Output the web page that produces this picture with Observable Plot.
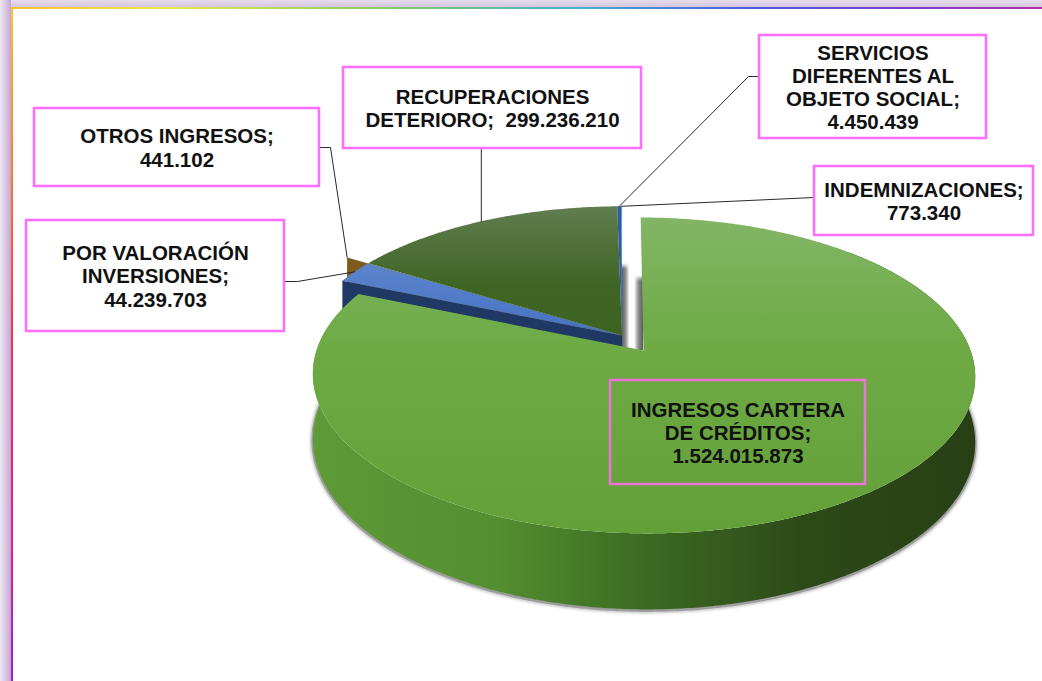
<!DOCTYPE html>
<html lang="es">
<head>
<meta charset="utf-8">
<title>Ingresos</title>
<script src="https://cdn.jsdelivr.net/npm/d3@7"></script>
<script src="https://cdn.jsdelivr.net/npm/@observablehq/plot@0.6"></script>
<style>
html,body{margin:0;padding:0;background:#fff;overflow:hidden;width:1042px;height:681px;position:relative}
#bandTop{position:absolute;left:0;top:0;width:1042px;height:7px;background:linear-gradient(180deg,#e6dcec,#d6c6e0)}
#bandLeft{position:absolute;left:0;top:0;width:11px;height:681px;background:linear-gradient(90deg,#f0e9f3,#c3a7d6)}
#lineTop{position:absolute;left:11px;top:7px;width:1031px;height:2px;background:linear-gradient(90deg,#ffc02a 0%,#e8e84a 15%,#7ccb6a 38%,#45b0d0 55%,#4a5ae0 72%,#7a3fd0 86%,#b030a8 100%)}
#lineLeft{position:absolute;left:11px;top:7px;width:2px;height:674px;background:linear-gradient(180deg,#ffc02a 0%,#ff7a2a 25%,#f03050 50%,#e0208c 80%,#a020c0 100%)}
#chart{position:absolute;left:0;top:0}
</style>
</head>
<body>
<div id="bandTop"></div><div id="bandLeft"></div><div id="lineTop"></div><div id="lineLeft"></div>
<svg width="0" height="0" style="position:absolute">
  <defs>
    <linearGradient id="gGreen" x1="0" y1="0" x2="0" y2="1">
      <stop offset="0" stop-color="#82b566"/><stop offset="0.4" stop-color="#6eab45"/><stop offset="1" stop-color="#63a038"/>
    </linearGradient>
    <linearGradient id="gDark" x1="0" y1="0" x2="0" y2="1">
      <stop offset="0" stop-color="#607d50"/><stop offset="0.6" stop-color="#3f6524"/><stop offset="1" stop-color="#3d6322"/>
    </linearGradient>
    <linearGradient id="gBlue" x1="0" y1="0" x2="0" y2="1">
      <stop offset="0" stop-color="#5c84cc"/><stop offset="1" stop-color="#4472c4"/>
    </linearGradient>
    <linearGradient id="gShadeL" x1="0" y1="0" x2="1" y2="0">
      <stop offset="0" stop-color="#5a5a5a"/><stop offset="0.5" stop-color="#8e8e8e"/><stop offset="1" stop-color="#ffffff"/>
    </linearGradient>
    <linearGradient id="gShadeR" x1="0" y1="0" x2="1" y2="0">
      <stop offset="0" stop-color="#ffffff"/><stop offset="0.5" stop-color="#8e8e8e"/><stop offset="1" stop-color="#5a5a5a"/>
    </linearGradient>
    <linearGradient id="gFade" x1="0" y1="0" x2="0" y2="1">
      <stop offset="0" stop-color="#ffffff"/><stop offset="1" stop-color="#ffffff" stop-opacity="0"/>
    </linearGradient>
    <linearGradient id="gWall" x1="0" y1="0" x2="1" y2="0">
      <stop offset="0" stop-color="#5f9a38"/><stop offset="0.28" stop-color="#538e30"/><stop offset="0.5" stop-color="#3c6a22"/><stop offset="0.74" stop-color="#2c4a18"/><stop offset="1" stop-color="#283f15"/>
    </linearGradient>
  </defs>
</svg>
<div id="chart"></div>
<script>
// ---- data ----
const categories = ["INGRESOS CARTERA DE CRÉDITOS","POR VALORACIÓN INVERSIONES","OTROS INGRESOS","RECUPERACIONES DETERIORO","SERVICIOS DIFERENTES AL OBJETO SOCIAL","INDEMNIZACIONES"];
const values = [1524015873, 44239703, 441102, 299236210, 4450439, 773340];
const wrappedNames = ["INGRESOS CARTERA\nDE CRÉDITOS","POR VALORACIÓN\nINVERSIONES","OTROS INGRESOS","RECUPERACIONES\nDETERIORO","SERVICIOS\nDIFERENTES AL\nOBJETO SOCIAL","INDEMNIZACIONES"];
const separators = [";\n",";\n",";\n",";\u00a0 ",";\n",";\n"];

// ---- layout (label boxes: left, right, top, bottom) ----
const boxes = [[610,865,380,484],[26,284,220,331],[34,319,108,186],[343,641,67,148],[759,986,35,138],[814,1033,166,235]];
const leaderSide = [null,"right","right","bottom","left","left"];
const elbow = [0,13,11,0,11,0];

// ---- 3D pie projection ----
const CX=643, CY=350, A=327, B=154, K=0.158, SK=3.3, DEPTH=64;
const CU=-0.0657, CV=0.099;             // offset of the non-exploded group
const proj=(u,v)=>{const d=1+K*v;return {x:CX+(A*u-SK*v)/d,y:CY-B*v/d,d};};
const polar=(t,r,cu,cv)=>proj(cu+r*Math.sin(t),cv+r*Math.cos(t));
const slices=d3.pie().sort(null).startAngle(0).endAngle(2*Math.PI)(values);
const offs=i=>i===0?[0,0]:[CU,CV];
function arcPts(a0,a1,r,cu,cv){
  const n=Math.max(1,Math.ceil((a1-a0)/(Math.PI/360)));
  return d3.range(n+1).map(j=>polar(a0+(a1-a0)*j/n,r,cu,cv));
}
function wedge(i){
  const [cu,cv]=offs(i), s=slices[i], c=proj(cu,cv);
  return [c,...arcPts(s.startAngle,s.endAngle,1,cu,cv),c];
}
function face(a,r,cu,cv,h){
  const c=proj(cu,cv), p=polar(a,r,cu,cv);
  return [c,p,{x:p.x,y:p.y+h},{x:c.x,y:c.y+h},c];
}
const RB=1.09;

// green side wall: upper arc, then lower arc back
const wallTop=arcPts(Math.PI/4,slices[0].endAngle,1,0,0);
const lower=wallTop.map(p=>({x:p.x,y:p.y+DEPTH/p.d}));
const wall=[...wallTop,...lower.slice().reverse(),wallTop[0]];

// gap shading, derived from the apex points
const P=proj(CU,CV), Q=proj(0,0);
const shadeRects=[
  {x1:P.x,x2:P.x+8,y1:P.y-72,y2:Q.y,f:"url(#gShadeL)"},
  {x1:Q.x-9,x2:Q.x,y1:Q.y-75,y2:Q.y,f:"url(#gShadeR)"},
  {x1:P.x,x2:P.x+8,y1:P.y-72,y2:P.y-66,f:"url(#gFade)"},
  {x1:Q.x-9,x2:Q.x,y1:Q.y-75,y2:Q.y-69,f:"url(#gFade)"}
];

// leaders
const mid=i=>(slices[i].startAngle+slices[i].endAngle)/2;
const leaderEnds=[null,polar(mid(1),1,CU,CV),polar(slices[2].endAngle,RB,CU,CV),polar(mid(3),1,CU,CV),polar(mid(4),1,CU,CV),polar(mid(5),1,CU,CV)];
const leaderStart=[null,{x:284,y:281},{x:319,y:147},null,{x:759,y:76},{x:814,y:197}];
const leaders=[];
leaderEnds.forEach((e,i)=>{
  if(!e) return;
  const b=boxes[i]; let pts;
  if(leaderSide[i]==="bottom") pts=[{x:e.x,y:b[3]},e];
  else{
    const st=leaderStart[i], dir=leaderSide[i]==="right"?1:-1;
    pts=elbow[i]?[st,{x:st.x+dir*elbow[i],y:st.y},e]:[st,e];
  }
  pts.forEach(p=>leaders.push({x:p.x,y:p.y,i}));
});

// labels
const fmt=d3.formatLocale({decimal:",",thousands:".",grouping:[3],currency:["",""]}).format(",");
const labelTexts=values.map((v,i)=>wrappedNames[i]+separators[i]+fmt(v));
const labelRows=labelTexts.map((t,i)=>({t,x:(boxes[i][0]+boxes[i][1])/2,y:(boxes[i][2]+boxes[i][3])/2}));
const boxRows=boxes.map((b,i)=>({x1:b[0],x2:b[1],y1:b[2],y2:b[3],f:i===0?"none":"white",s:i===0?"#f070dc":"#ff6cff"}));

const topColors=["url(#gGreen)","url(#gBlue)","#7f5a1e","url(#gDark)","#2f5c9e","#4f81bd"];
const poly=(pts,fill)=>Plot.line(pts,{x:"x",y:"y",fill,stroke:"none"});

const chart=Plot.plot({
  width:1042,height:681,margin:0,
  style:{background:"transparent",fontFamily:"'Liberation Sans',Arial,sans-serif"},
  x:{domain:[0,1042],range:[0,1042],axis:null},
  y:{domain:[0,681],range:[0,681],axis:null},
  color:{type:"identity"},
  marks:[
    Plot.line(lower,{x:"x",y:d=>d.y+1,stroke:"#555",strokeWidth:9,strokeOpacity:0.08}),
    Plot.line(lower,{x:"x",y:d=>d.y+1,stroke:"#555",strokeWidth:6,strokeOpacity:0.15}),
    Plot.line(lower,{x:"x",y:d=>d.y+1,stroke:"#444",strokeWidth:3,strokeOpacity:0.4}),
    poly(wall,"url(#gWall)"),
    Plot.rect(shadeRects.slice(0,2),{x1:"x1",x2:"x2",y1:"y1",y2:"y2",fill:"f"}),
    Plot.rect(shadeRects.slice(2),{x1:"x1",x2:"x2",y1:"y1",y2:"y2",fill:"f"}),
    poly(face(slices[2].endAngle,RB,CU,CV,40),topColors[2]),
    poly(face(slices[1].startAngle,1,CU,CV,40),"#1f3864"),
    poly(wedge(1),topColors[1]),
    poly(wedge(3),topColors[3]),
    poly(wedge(4),topColors[4]),
    poly(wedge(5),topColors[5]),
    poly(wedge(0),topColors[0]),
    Plot.line(leaders,{x:"x",y:"y",z:"i",stroke:"#2a2a2a",strokeWidth:1}),
    Plot.rect(boxRows,{x1:"x1",x2:"x2",y1:"y1",y2:"y2",fill:"f",stroke:"s",strokeWidth:2.5}),
    Plot.text(labelRows,{x:"x",y:"y",text:"t",fontSize:20.5,fontWeight:700,fill:"#111",lineHeight:1.13,textAnchor:"middle",frameAnchor:"middle"})
  ]
});
document.getElementById("chart").append(chart);
</script>
</body>
</html>
